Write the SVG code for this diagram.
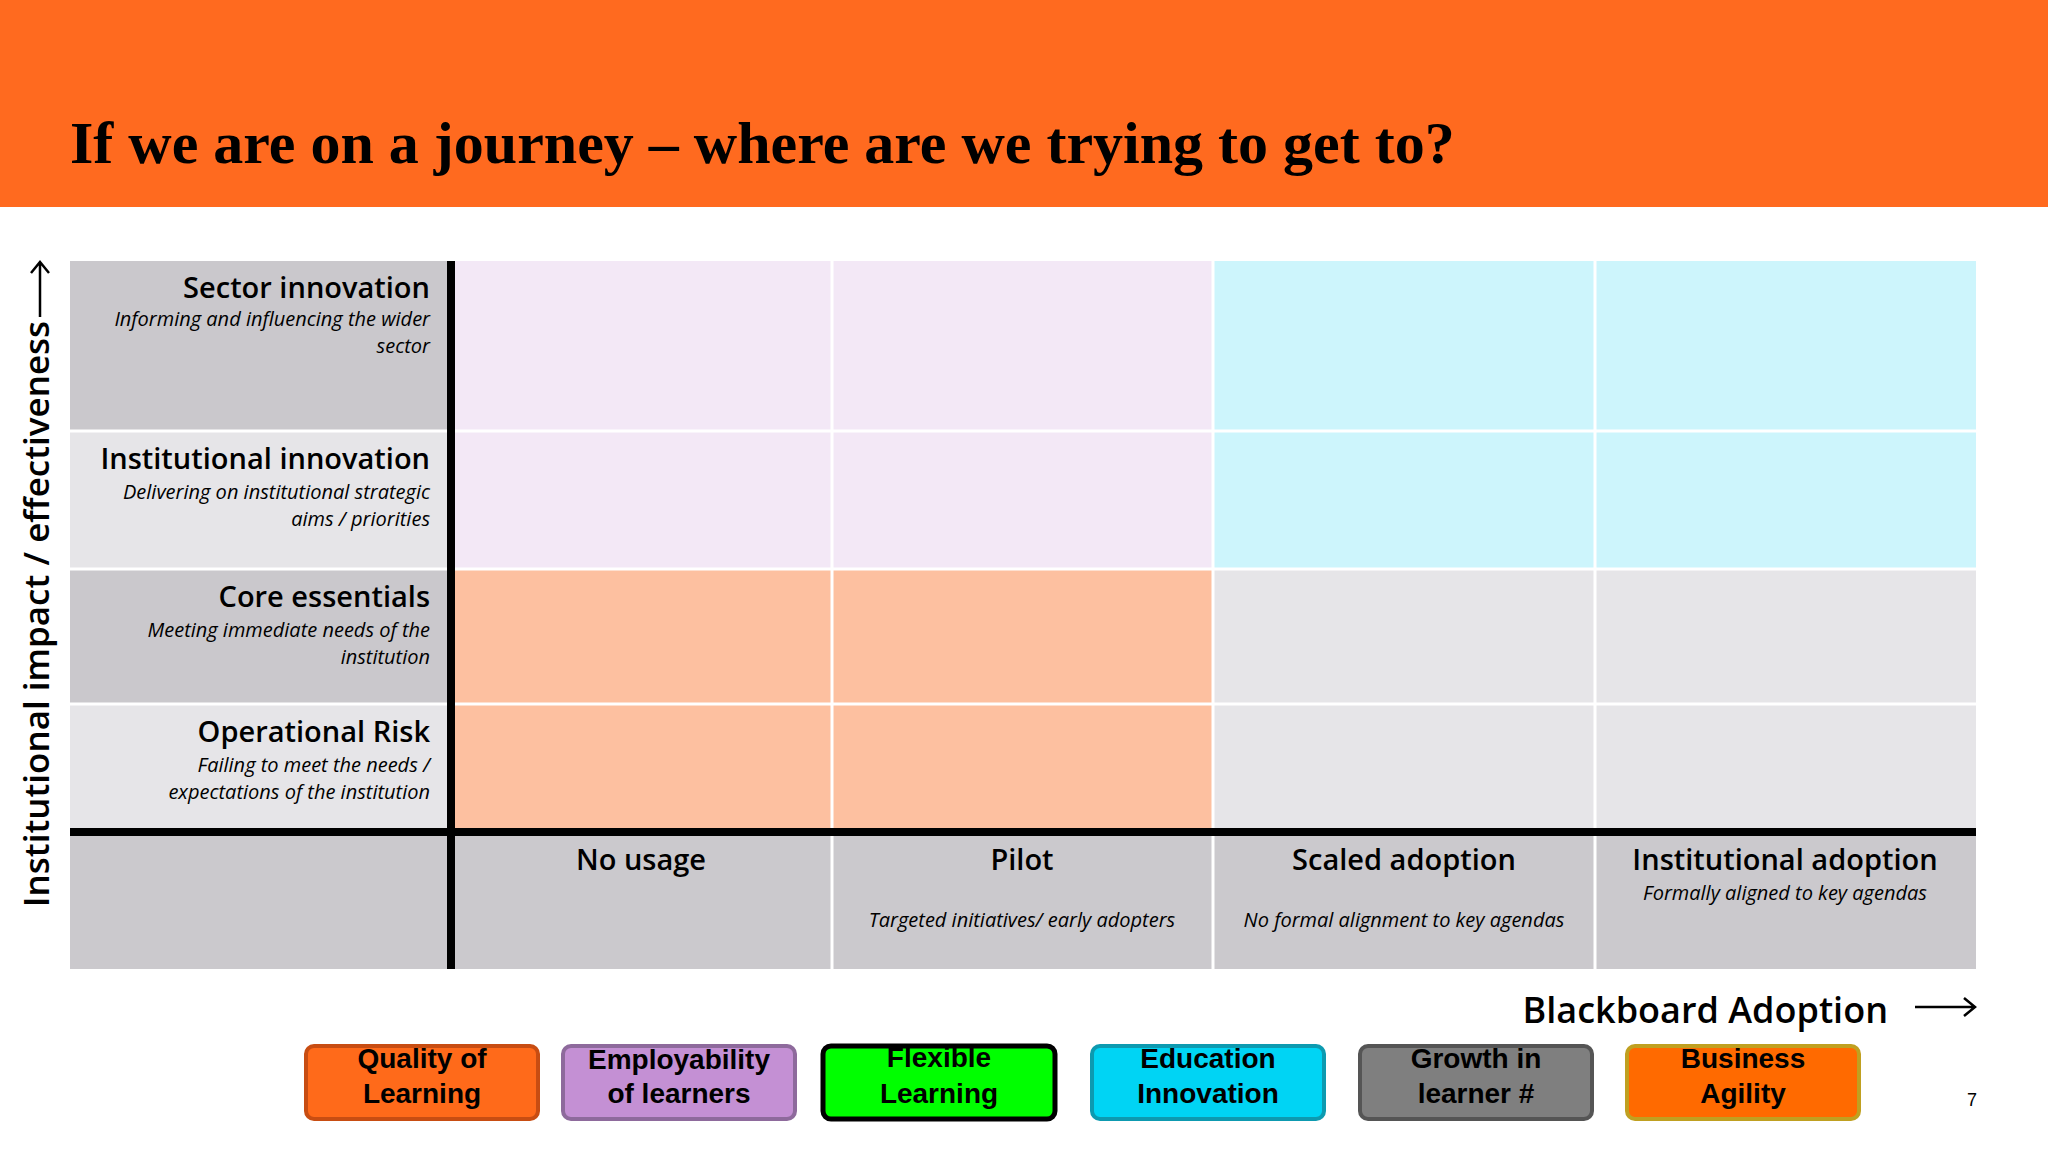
<svg xmlns="http://www.w3.org/2000/svg" width="2048" height="1152" viewBox="0 0 2048 1152">
<style>
.t{font-family:"Open Sans","Liberation Sans",sans-serif;font-weight:600;font-size:29px;fill:#000}
.i{font-family:"Open Sans","Liberation Sans",sans-serif;font-style:italic;font-size:20px;fill:#000}
.b{font-family:"Liberation Sans",Arial,sans-serif;font-weight:bold;font-size:28px;fill:#000;text-anchor:middle}
.g{stroke:#fff;stroke-width:3}
</style>
<rect width="2048" height="1152" fill="#fff"/>
<rect width="2048" height="207" fill="#ff6a1f"/>
<text x="70" y="163" font-family="Liberation Serif,serif" font-weight="bold" font-size="60">If we are on a journey – where are we trying to get to?</text>
<g id="grid">
<rect x="70" y="261" width="381" height="170" fill="#cac8cc"/>
<rect x="70" y="431" width="381" height="138" fill="#e6e5e8"/>
<rect x="70" y="569" width="381" height="135" fill="#cac8cc"/>
<rect x="70" y="704" width="381" height="127" fill="#e6e5e8"/>
<rect x="70" y="831" width="1906" height="138" fill="#cbc9cd"/>
<rect x="451" y="261" width="762" height="308" fill="#f3e8f6"/>
<rect x="1213" y="261" width="763" height="308" fill="#cdf5fc"/>
<rect x="451" y="569" width="762" height="262" fill="#fdc0a0"/>
<rect x="1213" y="569" width="763" height="262" fill="#e6e5e8"/>
<g class="g">
<line x1="70" y1="431" x2="1976" y2="431"/><line x1="70" y1="569" x2="1976" y2="569"/><line x1="70" y1="704" x2="1976" y2="704"/>
<line x1="832" y1="261" x2="832" y2="969"/><line x1="1213" y1="261" x2="1213" y2="969"/><line x1="1595" y1="261" x2="1595" y2="969"/>
</g>
<line x1="451" y1="261" x2="451" y2="969" stroke="#000" stroke-width="8"/>
<line x1="70" y1="832" x2="1976" y2="832" stroke="#000" stroke-width="8"/>
</g>
<g id="rows" text-anchor="end">
<text class="t" x="430" y="298">Sector innovation</text>
<text class="i" x="430" y="326">Informing and influencing the wider</text>
<text class="i" x="430" y="353">sector</text>
<text class="t" x="430" y="469">Institutional innovation</text>
<text class="i" x="430" y="499">Delivering on institutional strategic</text>
<text class="i" x="430" y="526">aims / priorities</text>
<text class="t" x="430" y="607">Core essentials</text>
<text class="i" x="430" y="637">Meeting immediate needs of the</text>
<text class="i" x="430" y="664">institution</text>
<text class="t" x="430" y="742">Operational Risk</text>
<text class="i" x="430" y="772">Failing to meet the needs /</text>
<text class="i" x="430" y="799">expectations of the institution</text>
</g>
<g id="cols" text-anchor="middle">
<text class="t" x="641" y="870">No usage</text>
<text class="t" x="1022" y="870">Pilot</text>
<text class="i" x="1022" y="927">Targeted initiatives/ early adopters</text>
<text class="t" x="1404" y="870">Scaled adoption</text>
<text class="i" x="1404" y="927">No formal alignment to key agendas</text>
<text class="t" x="1785" y="870">Institutional adoption</text>
<text class="i" x="1785" y="900">Formally aligned to key agendas</text>
</g>
<g id="axes">
<text transform="translate(49,614) rotate(-90)" text-anchor="middle" font-family="Open Sans,Liberation Sans,sans-serif" font-weight="600" font-size="35">Institutional impact / effectiveness</text>
<path d="M40 317V262M31 273L40 262L49 273" fill="none" stroke="#000" stroke-width="2.5"/>
<text x="1888" y="1023" text-anchor="end" font-family="Open Sans,Liberation Sans,sans-serif" font-weight="600" font-size="36">Blackboard Adoption</text>
<path d="M1915 1007H1975M1964 998L1975 1007L1964 1016" fill="none" stroke="#000" stroke-width="2.5"/>
</g>
<g id="b1"><rect x="306" y="1046" width="232" height="73" rx="8" fill="#ff6a1a" stroke="#c84d12" stroke-width="4"/><text class="b" x="422" y="1068">Quality of</text><text class="b" x="422" y="1103">Learning</text></g>
<g id="b2"><rect x="563" y="1046" width="232" height="73" rx="8" fill="#c490d4" stroke="#8e6a9c" stroke-width="4"/><text class="b" x="679" y="1069">Employability</text><text class="b" x="679" y="1103">of learners</text></g>
<g id="b3"><rect x="823" y="1046" width="232" height="73" rx="8" fill="#00ff00" stroke="#000" stroke-width="5"/><text class="b" x="939" y="1067">Flexible</text><text class="b" x="939" y="1103">Learning</text></g>
<g id="b4"><rect x="1092" y="1046" width="232" height="73" rx="8" fill="#00d4f4" stroke="#0d9ab0" stroke-width="4"/><text class="b" x="1208" y="1068">Education</text><text class="b" x="1208" y="1103">Innovation</text></g>
<g id="b5"><rect x="1360" y="1046" width="232" height="73" rx="8" fill="#7f7f7f" stroke="#555" stroke-width="4"/><text class="b" x="1476" y="1068">Growth in</text><text class="b" x="1476" y="1103">learner #</text></g>
<g id="b6"><rect x="1627" y="1046" width="232" height="73" rx="8" fill="#ff6a00" stroke="#c0a020" stroke-width="4"/><text class="b" x="1743" y="1068">Business</text><text class="b" x="1743" y="1103">Agility</text></g>
<text x="1972" y="1106" font-family="Liberation Sans,sans-serif" font-size="18" text-anchor="middle">7</text>
</svg>
